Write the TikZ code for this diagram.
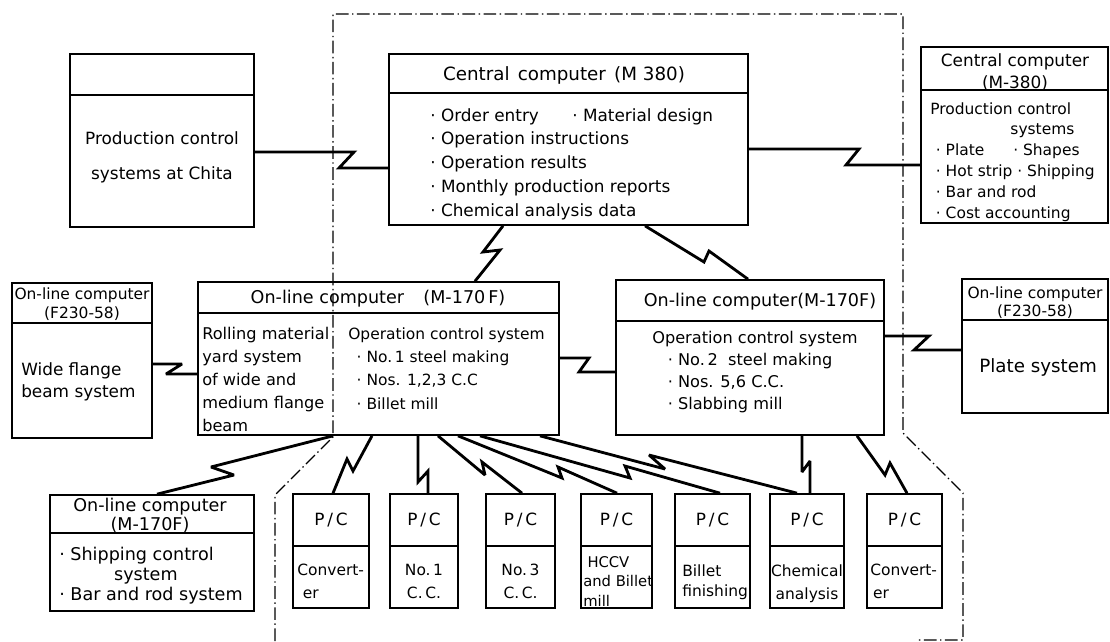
\documentclass[tikz,border=0pt]{standalone}
\usepackage{fontspec}
\setmainfont{DejaVu Sans}
\usetikzlibrary{calc, fit, positioning}

\newcommand{\fsz}[2]{\fontsize{#1}{#2}\selectfont}

\begin{document}
\begin{tikzpicture}[x=0.025cm, y=-0.025cm,
    frame/.style={
        draw,
        line width=1.2pt,
        inner sep=0pt
    },
    link/.style={
        line width=2pt,
        line join=miter,
        miter limit=3
    },
    zone/.style={
        line width=0.8pt,
        dash pattern=on 9pt off 2.5pt on 1pt off 2.5pt
    },
    txt/.style={
        inner sep=0pt,
        anchor=north west,
        align=left
    },
    ctxt/.style={
        inner sep=0pt,
        anchor=north,
        align=center
    }
]
\useasboundingbox (0,0) rectangle (1110,641);

% works boundary
\draw[zone] (275,641) -- (275,495) -- (333,437) -- (333,14) -- (903,14) -- (903,433) -- (963,493) -- (963,640) -- (918,640);

% Upper level: central computers
\node[frame, fit={(70,54) (254,227)}] (chita) {};
\draw[frame] (chita.west |- 0,95) -- (chita.east |- 0,95);
\node[ctxt, font=\fsz{12}{25}] at (162,131) {Production control\\systems at Chita};

\node[frame, fit={(389,54) (748,225)}] (central) {};
\draw[frame] (central.west |- 0,93) -- (central.east |- 0,93);
\node[ctxt, font=\fsz{13}{17}] at (564,66) {Central\hspace{0.45em}computer\hspace{0.45em}(M 380)};
\node[txt, font=\fsz{12}{16.9}] at (430,108) {\makebox[101pt][l]{· Order entry}· Material design\\
    · Operation instructions\\
    · Operation results\\
    · Monthly production reports\\
    · Chemical analysis data};

\node[frame, fit={(921,47) (1108,223)}] (prodctl) {};
\draw[frame] (prodctl.west |- 0,90) -- (prodctl.east |- 0,90);
\node[ctxt, font=\fsz{12}{15.6}] at (1015,53) {Central computer\\(M-380)};
\node[txt, font=\fsz{11}{14.8}] at (930,102) {Production control\\
    \hspace*{57pt}systems\\
    \hspace*{4pt}\makebox[55pt][l]{· Plate}· Shapes\\
    \hspace*{4pt}· Hot strip · Shipping\\
    \hspace*{4pt}· Bar and rod\\
    \hspace*{4pt}· Cost accounting};

% Middle level: on-line computers
\node[frame, fit={(12,283) (152,438)}] (wfb) {};
\draw[frame] (wfb.west |- 0,323) -- (wfb.east |- 0,323);
\node[ctxt, font=\fsz{11}{13.5}] at (82,287) {On-line computer\\(F230-58)};
\node[txt, font=\fsz{12}{15.6}] at (21,362) {Wide flange\\ beam system};

\node[frame, fit={(198,282) (559,435)}] (online1) {};
\draw[frame] (online1.west |- 0,313) -- (online1.east |- 0,313);
\node[ctxt, font=\fsz{12.5}{16}] at (378,290) {On-line computer\hspace{1.1em}(M-170\,F)};
\node[txt, font=\fsz{11.5}{16.4}] at (202,327) {Rolling material\\yard system\\of wide and\\medium flange\\beam};
\node[txt, font=\fsz{11}{16.6}] at (348,327) {Operation control system\\
    \hspace*{6pt}· No.\,1 steel making\\
    \hspace*{6pt}· Nos. 1,2,3 C.C\\
    \hspace*{6pt}· Billet mill};

\node[frame, fit={(616,280) (884,435)}] (online2) {};
\draw[frame] (online2.west |- 0,321) -- (online2.east |- 0,321);
\node[ctxt, font=\fsz{12.5}{16}] at (760,293) {On-line computer(M-170F)};
\node[txt, font=\fsz{11.5}{15.6}] at (652,331) {Operation control system\\
    \hspace*{11pt}· No.\,2\ \ steel making\\
    \hspace*{11pt}· Nos. 5,6 C.C.\\
    \hspace*{11pt}· Slabbing mill};

\node[frame, fit={(962,279) (1108,413)}] (plate) {};
\draw[frame] (plate.west |- 0,320) -- (plate.east |- 0,320);
\node[ctxt, font=\fsz{11}{12.8}] at (1035,286) {On-line computer\\(F230-58)};
\node[txt, font=\fsz{13}{16}] at (979,358) {Plate system};

% Lower level: shipping and process computers
\node[frame, fit={(50,495) (254,611)}] (shipping) {};
\draw[frame] (shipping.west |- 0,533) -- (shipping.east |- 0,533);
\node[ctxt, font=\fsz{12.5}{11.5}] at (150,498) {On-line computer\\(M-170F)};
\node[txt, font=\fsz{12.5}{14.2}] at (59,547) {· Shipping control\\
    \hspace*{39pt}system\\
    · Bar and rod system};

\node[frame, fit={(293,494) (369,608)}] (pc1) {};
\node[frame, fit={(390,494) (458,608)}] (pc2) {};
\node[frame, fit={(486,494) (555,608)}] (pc3) {};
\node[frame, fit={(581,494) (652,608)}] (pc4) {};
\node[frame, fit={(675,494) (750,608)}] (pc5) {};
\node[frame, fit={(770,494) (844,608)}] (pc6) {};
\node[frame, fit={(867,494) (942,608)}] (pc7) {};
\draw[frame] (pc1.west |- 0,546) -- (pc1.east |- 0,546);
\draw[frame] (pc2.west |- 0,546) -- (pc2.east |- 0,546);
\draw[frame] (pc3.west |- 0,546) -- (pc3.east |- 0,546);
\draw[frame] (pc4.west |- 0,546) -- (pc4.east |- 0,546);
\draw[frame] (pc5.west |- 0,546) -- (pc5.east |- 0,546);
\draw[frame] (pc6.west |- 0,546) -- (pc6.east |- 0,546);
\draw[frame] (pc7.west |- 0,546) -- (pc7.east |- 0,546);

\node[font=\fsz{12}{14}, inner sep=0pt] at (pc1.north |- 0,520) {P\,/\,C};
\node[font=\fsz{12}{14}, inner sep=0pt] at (pc2.north |- 0,520) {P\,/\,C};
\node[font=\fsz{12}{14}, inner sep=0pt] at (pc3.north |- 0,520) {P\,/\,C};
\node[font=\fsz{12}{14}, inner sep=0pt] at (pc4.north |- 0,520) {P\,/\,C};
\node[font=\fsz{12}{14}, inner sep=0pt] at (pc5.north |- 0,520) {P\,/\,C};
\node[font=\fsz{12}{14}, inner sep=0pt] at (pc6.north |- 0,520) {P\,/\,C};
\node[font=\fsz{12}{14}, inner sep=0pt] at (pc7.north |- 0,520) {P\,/\,C};

\node[txt, font=\fsz{11}{16.4}] at (297,564) {Convert-\\\hspace*{4pt}er};
\node[ctxt, font=\fsz{11}{16.4}] at (pc2.north |- 0,564) {No.\,1\\C.\,C.};
\node[ctxt, font=\fsz{11}{16.4}] at (pc3.north |- 0,564) {No.\,3\\C.\,C.};
\node[txt, font=\fsz{10.5}{14}] at (583,556) {\hspace*{3pt}HCCV\\and Billet\\mill};
\node[txt, font=\fsz{11}{14.5}] at (682,564) {Billet\\finishing};
\node[ctxt, font=\fsz{11}{16.4}] at (pc6.north |- 0,564) {Chemical\\analysis};
\node[txt, font=\fsz{11}{16.4}] at (870,564) {Convert-\\\hspace*{2pt}er};

% Data links
\draw[link] (chita.east |- 0,152) -- (354,152) -- (339,168) -- (central.west |- 0,168);
\draw[link] (central.east |- 0,149) -- (859,149) -- (846,165) -- (prodctl.west |- 0,165);
\draw[link] (central.south -| 503,0) -- (483,252) -- (500,250) -- (online1.north -| 475,0);
\draw[link] (central.south -| 645,0) -- (704,262) -- (709,251) -- (online2.north -| 748,0);

\draw[link] (wfb.east |- 0,364) -- (182,364) -- (166,374) -- (online1.west |- 0,374);
\draw[link] (online1.east |- 0,358) -- (589,358) -- (579,372) -- (online2.west |- 0,372);
\draw[link] (online2.east |- 0,336) -- (929,336) -- (914,350) -- (plate.west |- 0,350);
\draw[link] (online1.south -| 333,0) -- (211,467) -- (234,475) -- (shipping.north -| 157,0);

\draw[link] (online1.south -| 372,0) -- (353,471) -- (347,459) -- (pc1.north -| 333,0);
\draw[link] (online1.south -| 418,0) -- (418,482) -- (428,471) -- (pc2.north -| 428,0);
\draw[link] (online1.south -| 438,0) -- (485,475) -- (482,462) -- (pc3.north -| 522,0);
\draw[link] (online1.south -| 458,0) -- (562,478) -- (558,467) -- (pc4.north -| 617,0);
\draw[link] (online1.south -| 480,0) -- (630,478) -- (625,466) -- (pc5.north -| 720,0);
\draw[link] (online1.south -| 540,0) -- (665,469) -- (649,455) -- (pc6.north -| 797,0);
\draw[link] (online2.south -| 802,0) -- (802,472) -- (810,461) -- (pc6.north -| 810,0);
\draw[link] (online2.south -| 857,0) -- (885,475) -- (890,463) -- (pc7.north -| 907,0);

\end{tikzpicture}
\end{document}
